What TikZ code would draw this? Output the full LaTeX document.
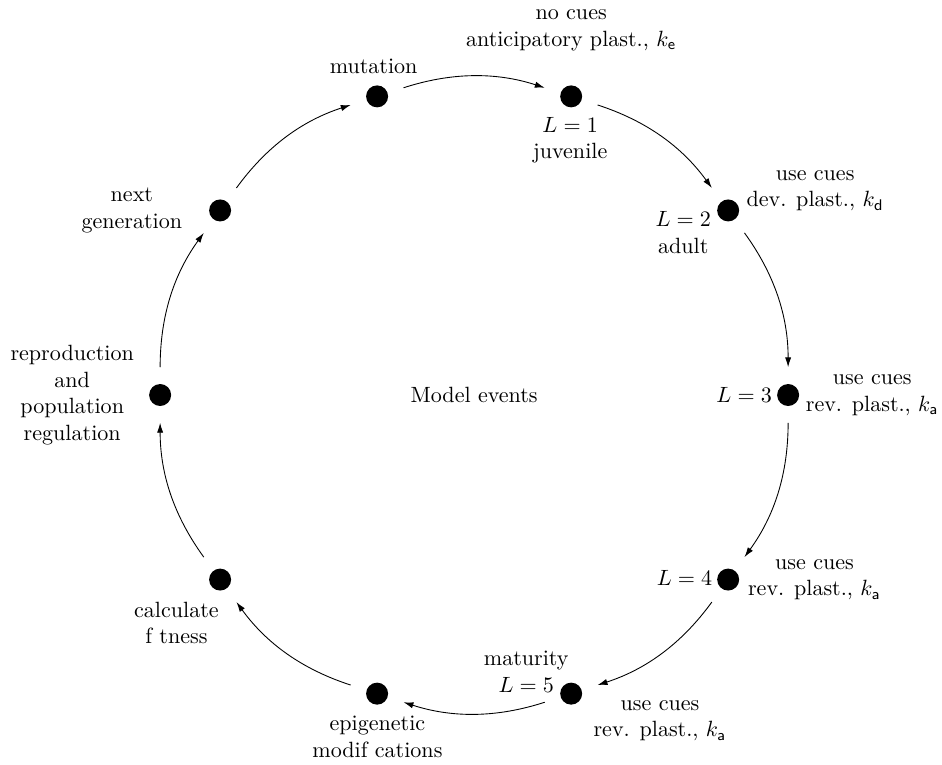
\documentclass[tikz,border=0pt]{standalone}
\usepackage{tikz}
\usetikzlibrary{arrows.meta}

\begin{document}
\begin{tikzpicture}[
      dot/.style={circle, fill=black, minimum size=3.5mm, inner sep=0pt},
      txt/.style={align=center, inner sep=0pt},
      arr/.style={-{Latex[length=4.5pt, width=2.8pt]}, shorten <=7.4pt,
                  shorten >=7.4pt}
    ]
    \useasboundingbox (-7.55,-5.89) rectangle (7.45,6.29);

    %--- Events on the cycle ---
    \foreach \n/\a in {mut/108, lA/72, lB/36, lC/0, lD/-36, lE/-72,
                       epi/-108, fit/-144, rep/180, gen/144} {
      \node[dot] (\n) at (\a:5) {};
    }
    \foreach \s/\t in {mut/lA, lA/lB, lB/lC, lC/lD, lD/lE, lE/epi,
                       epi/fit, fit/rep, rep/gen, gen/mut} {
      \draw[arr] (\s) to[bend left=18] (\t);
    }

    %--- Labels ---
    \node (centre) at (0,0) {Model events};
    \node[txt] (tmut) at (-1.60, 5.24) {mutation};
    \node[txt] (cueA) at (1.545, 5.81) {no cues\\anticipatory plast., $k_{\mathsf{e}}$};
    \node[txt] (tlA) at (1.53, 4.06) {$L=1$\\juvenile};
    \node[txt] (cueB) at (5.43, 3.25) {use cues\\dev. plast., $k_{\mathsf{d}}$};
    \node[txt] (tlB) at (3.33, 2.59) {$L=2$\\adult};
    \node[txt] (tlC) at (4.30, 0) {$L=3$};
    \node[txt] (cueC) at (6.34, 0) {use cues\\rev. plast., $k_{\mathsf{a}}$};
    \node[txt] (tlD) at (3.35, -2.91) {$L=4$};
    \node[txt] (cueD) at (5.42, -2.94) {use cues\\rev. plast., $k_{\mathsf{a}}$};
    \node[txt] (tlE) at (0.83, -4.41) {maturity\\$L=5$};
    \node[txt] (cueE) at (2.96, -5.19) {use cues\\rev. plast., $k_{\mathsf{a}}$};
    \node[txt] (tepi) at (-1.54, -5.44) {epigenetic\\modif cations};
    \node[txt] (tfit) at (-4.74, -3.63) {calculate\\f tness};
    \node[txt] (trep) at (-6.40, 0) {reproduction\\and\\population\\regulation};
    \node[txt] (tgen) at (-5.45, 2.94) {next\\generation};
  \end{tikzpicture}
\end{document}
